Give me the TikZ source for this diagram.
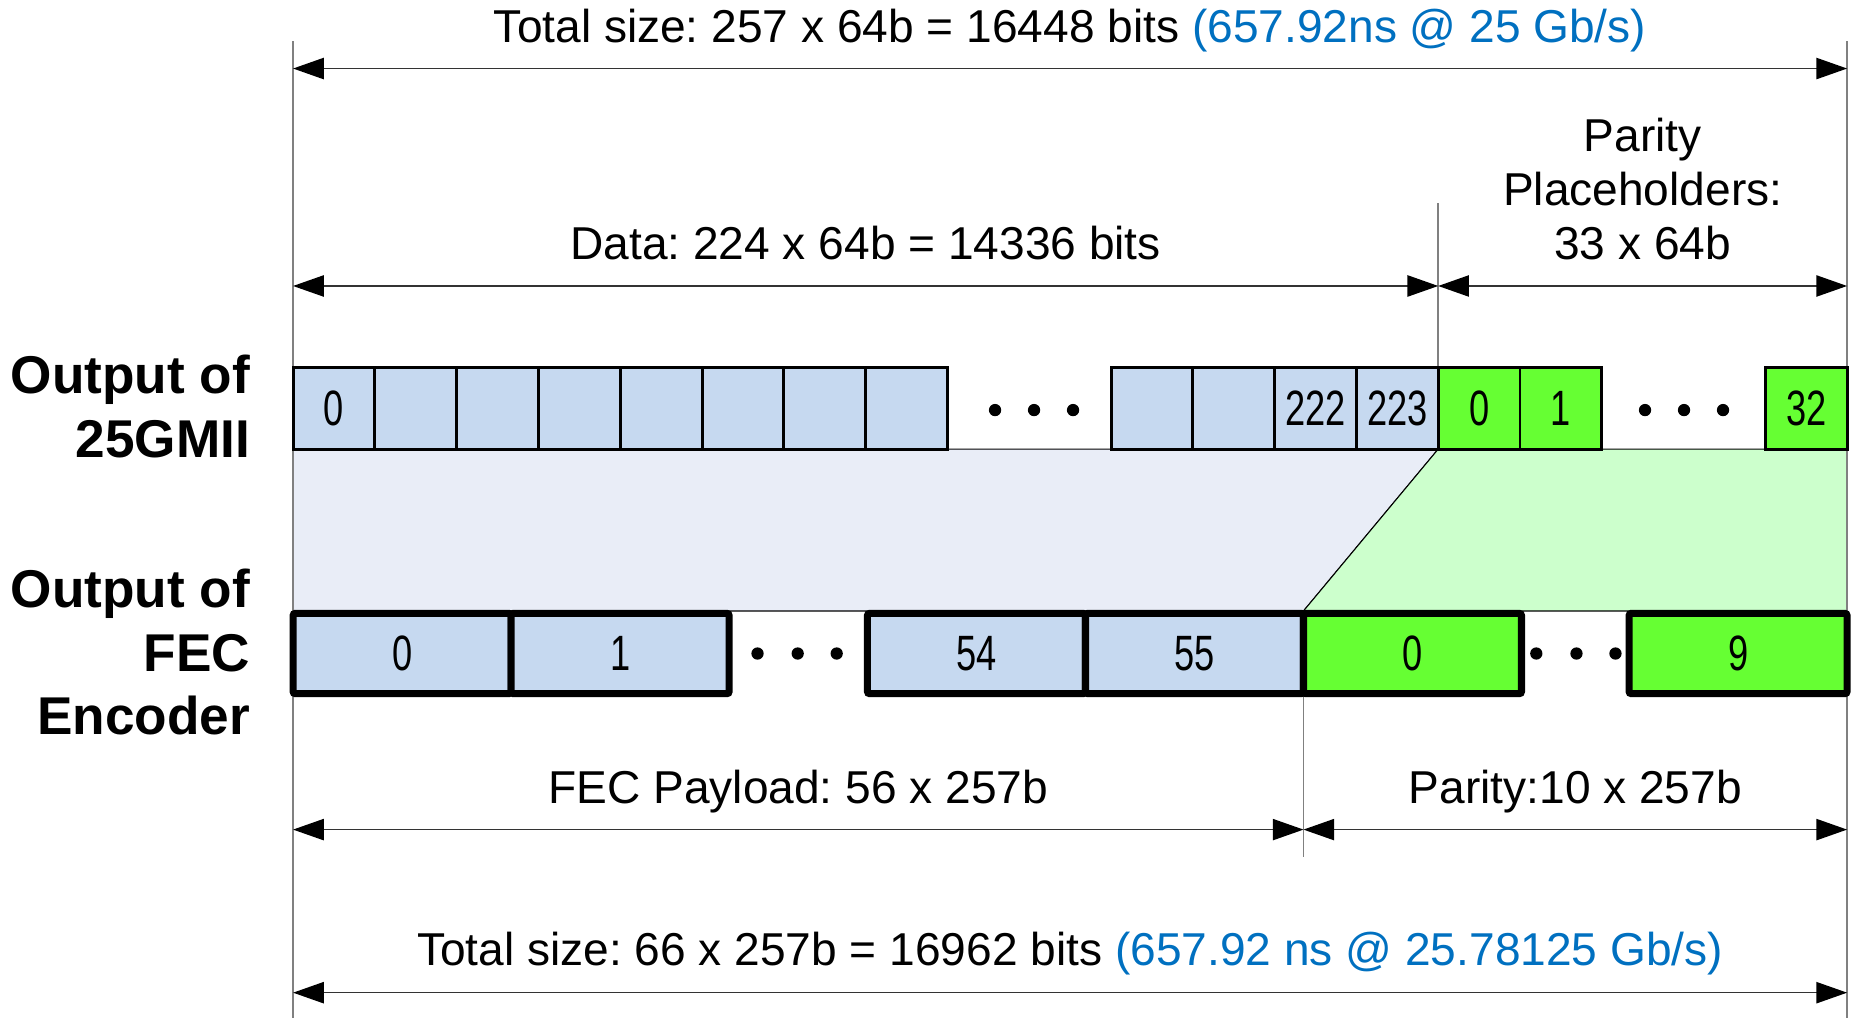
\documentclass[tikz,border=0pt]{standalone}
\usepackage{fontspec}
\setmainfont{Liberation Sans}
\newfontfamily\cellfont[FakeStretch=0.73]{Liberation Sans}
\usetikzlibrary{arrows.meta}

\definecolor{cellblue}{RGB}{198,217,240}
\definecolor{cellgreen}{RGB}{102,255,51}
\definecolor{bandblue}{RGB}{233,237,247}
\definecolor{bandgreen}{RGB}{204,255,204}
\definecolor{ratecol}{RGB}{0,112,192}
\definecolor{guide}{RGB}{128,128,128}

\tikzset{
  dimtip/.tip={Triangle[length=13pt,width=9pt,color=black]},
  lane/.style={draw=guide, line width=0.65pt},
  dimline/.style={draw=black!80, line width=0.6pt, {dimtip}-{dimtip}},
  txt/.style={inner sep=0pt, font=\fontsize{19.5}{23}\selectfont},
  rowlabel/.style={inner sep=0pt, align=right, anchor=east,
    font=\bfseries\fontsize{22.5}{26.9}\selectfont},
  word/.style={draw=black, line width=1.25pt, inner sep=0pt,
    minimum width=34.6pt, minimum height=34.5pt,
    font=\cellfont\fontsize{21}{24}\selectfont},
  dataword/.style={word, fill=cellblue},
  parword/.style={word, fill=cellgreen},
  block/.style={draw=black, line width=3pt, rounded corners=1pt, inner sep=0pt,
    minimum width=92.25pt, minimum height=34pt,
    font=\cellfont\fontsize{21}{24}\selectfont},
  datablock/.style={block, fill=cellblue},
  parblock/.style={block, fill=cellgreen},
  band/.style={draw=black, line width=0.45pt},
}

\begin{document}
\frenchspacing
\begin{tikzpicture}[x=0.5pt, y=-0.5pt]
\useasboundingbox (0,0) rectangle (1568,861);

% mapping bands between the two rows
\path[band, fill=bandblue] (248,380) -- (1217,380) -- (1103,517) -- (248,517) -- cycle;
\path[band, fill=bandgreen] (1217,380) -- (1563,380) -- (1563,517) -- (1103,517) -- cycle;

% guide lines
\coordinate (gl1) at (248,35);   \coordinate (gl2) at (248,861);
\coordinate (gr1) at (1563,35);  \coordinate (gr2) at (1563,861);
\coordinate (gm1) at (1217,172); \coordinate (gm2) at (1217,311);
\coordinate (gf1) at (1103,588); \coordinate (gf2) at (1103,725);
\draw[lane] (gl1) -- (gl2);
\draw[lane] (gr1) -- (gr2);
\draw[lane] (gm1) -- (gm2);
\draw[lane] (gf1) -- (gf2);

% 25GMII output: 64b words
\node[dataword] (w0) at ({248+0.5*69.214},345.5) {0};
\foreach \k in {1,...,7,10,11}
  \node[dataword] (w\k) at ({248+(\k+0.5)*69.214},345.5) {};
\node[dataword] (w12) at ({248+12.5*69.214},345.5) {222};
\node[dataword] (w13) at ({248+13.5*69.214},345.5) {223};
\node[parword] (p0) at ({248+14.5*69.214},345.5) {0};
\node[parword] (p1) at ({248+15.5*69.214},345.5) {1};
\node[parword] (p32) at (1528.4,345.5) {32};

\foreach \x in {842,875,908,1392,1425,1458}
  \fill (\x,347) circle[radius=2.6pt];

% FEC encoder output: 257b blocks
\node[datablock] (f0) at (340.25,553) {0};
\node[datablock] (f1) at (524.75,553) {1};
\node[datablock] (f54) at (826.25,553) {54};
\node[datablock] (f55) at (1010.75,553) {55};
\node[parblock] (q0) at (1195.25,553) {0};
\node[parblock] (q9) at (1470.75,553) {9};

\foreach \x in {641,675,708,1300,1334,1367}
  \fill (\x,553) circle[radius=2.6pt];

% dimension arrows
\coordinate (a1l) at (248,58);   \coordinate (a1r) at (1563,58);
\coordinate (a2l) at (248,242);  \coordinate (a2m) at (1217,242); \coordinate (a2r) at (1563,242);
\coordinate (a3l) at (248,702);  \coordinate (a3m) at (1103,702); \coordinate (a3r) at (1563,702);
\coordinate (a4l) at (248,840);  \coordinate (a4r) at (1563,840);
\draw[dimline] (a1l) -- (a1r);
\draw[dimline] (a2l) -- (a2m);
\draw[dimline] (a2m) -- (a2r);
\draw[dimline] (a3l) -- (a3m);
\draw[dimline] (a3m) -- (a3r);
\draw[dimline] (a4l) -- (a4r);

% dimension texts
\node[txt, anchor=base] (t1) at (905.5,36)
  {Total size: 257 x 64b = 16448 bits \textcolor{ratecol}{(657.92ns @ 25 Gb/s)}};
\node[txt, anchor=base] (t2) at (732.5,220) {Data: 224 x 64b = 14336 bits};
\node[txt, anchor=base] (t3a) at (1390,128) {Parity};
\node[txt, anchor=base] (t3b) at (1390,174) {Placeholders:};
\node[txt, anchor=base] (t3c) at (1390,220) {33 x 64b};
\node[txt, anchor=base] (t4) at (675.5,680) {FEC Payload: 56 x 257b};
\node[txt, anchor=base] (t5) at (1333,680) {Parity:10 x 257b};
\node[txt, anchor=base] (t6) at (905.5,817)
  {Total size: 66 x 257b = 16962 bits \textcolor{ratecol}{(657.92 ns @ 25.78125 Gb/s)}};

% row labels
\node[rowlabel] (r1) at (212,344) {Output of\\25GMII};
\node[rowlabel] (r2) at (212,552) {Output of\\FEC\\Encoder};
\end{tikzpicture}
\end{document}
